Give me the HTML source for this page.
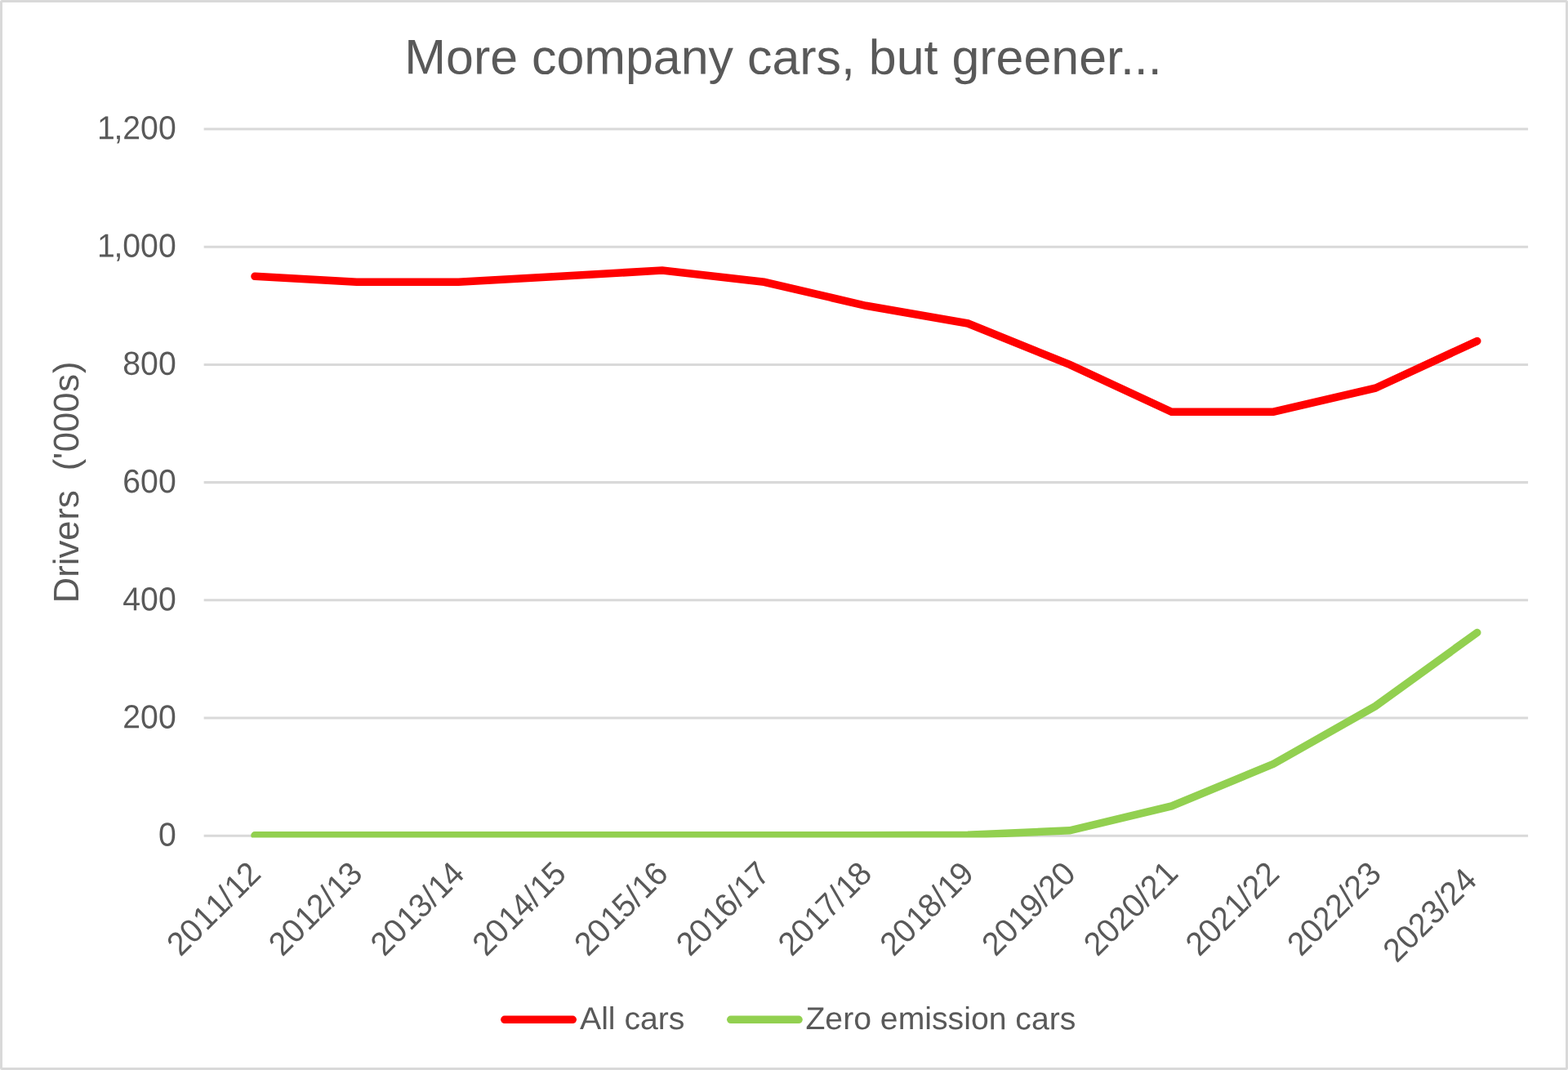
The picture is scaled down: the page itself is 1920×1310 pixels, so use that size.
<!DOCTYPE html>
<html lang="en">
<head>
<meta charset="utf-8">
<title>More company cars, but greener...</title>
<style>
html,body{margin:0;padding:0;background:#fff;}
body{width:1920px;height:1310px;overflow:hidden;}
svg{display:block;font-family:"Liberation Sans",sans-serif;}
text{fill:#595959;white-space:pre;}
.ax text,text.ax{font-kerning:none;}
</style>
</head>
<body>
<svg width="1920" height="1310" viewBox="0 0 1920 1310">
<rect x="0" y="0" width="1920" height="1310" fill="#ffffff"/>
<rect x="1.5" y="1.5" width="1917" height="1307" rx="1" ry="1" fill="none" stroke="#d9d9d9" stroke-width="3"/>
<defs><clipPath id="plot"><rect x="249.64" y="156.00" width="1621.46" height="869.45"/></clipPath></defs>
<g stroke="#d9d9d9" stroke-width="3.05" fill="none">
<line x1="249.64" y1="158.00" x2="1871.1" y2="158.00"/>
<line x1="249.64" y1="302.21" x2="1871.1" y2="302.21"/>
<line x1="249.64" y1="446.42" x2="1871.1" y2="446.42"/>
<line x1="249.64" y1="590.63" x2="1871.1" y2="590.63"/>
<line x1="249.64" y1="734.84" x2="1871.1" y2="734.84"/>
<line x1="249.64" y1="879.05" x2="1871.1" y2="879.05"/>
<line x1="249.64" y1="1023.26" x2="1871.1" y2="1023.26"/>
</g>
<text transform="translate(959.0 90.65) matrix(1 0.0006 0 1 0 0) scale(1 0.984)" font-size="60.9" text-anchor="middle">More company cars, but greener...</text>
<g font-size="39.2" class="ax">
<text transform="translate(215.7 170.37) matrix(1 0.001 0 1 0 0) scale(1 1.032)" x="-96.80 -76.29 -65.40 -43.60 -21.80">1,200</text>
<text transform="translate(215.7 314.58) matrix(1 0.001 0 1 0 0) scale(1 1.032)" x="-96.80 -76.29 -65.40 -43.60 -21.80">1,000</text>
<text transform="translate(215.7 458.79) matrix(1 0.001 0 1 0 0) scale(1 1.032)" x="-65.40 -43.60 -21.80">800</text>
<text transform="translate(215.7 603.00) matrix(1 0.001 0 1 0 0) scale(1 1.032)" x="-65.40 -43.60 -21.80">600</text>
<text transform="translate(215.7 747.21) matrix(1 0.001 0 1 0 0) scale(1 1.032)" x="-65.40 -43.60 -21.80">400</text>
<text transform="translate(215.7 891.42) matrix(1 0.001 0 1 0 0) scale(1 1.032)" x="-65.40 -43.60 -21.80">200</text>
<text transform="translate(215.7 1035.63) matrix(1 0.001 0 1 0 0) scale(1 1.032)" x="-21.80">0</text>
</g>
<text font-size="43.56" class="ax" transform="translate(96 591.3) rotate(-90) matrix(1 0.0006 0 1 0 0)" x="-146.96 -115.50 -101.00 -92.22 -70.44 -45.31 -30.81 -9.03 3.07 15.18 29.08 38.00 62.22 86.45 111.58 134.36">Drivers  ('000s)</text>
<g font-size="39.2" class="ax">
<text transform="translate(321.30 1072.13) rotate(-45) scale(1 1.032)" x="-141.70 -119.90 -96.80 -74.99 -54.49 -42.30 -21.80">2011/12</text>
<text transform="translate(446.03 1072.13) rotate(-45) scale(1 1.032)" x="-141.70 -119.90 -96.80 -76.29 -54.49 -42.30 -21.80">2012/13</text>
<text transform="translate(570.76 1072.13) rotate(-45) scale(1 1.032)" x="-141.70 -119.90 -96.80 -76.29 -54.49 -42.30 -21.80">2013/14</text>
<text transform="translate(695.49 1072.13) rotate(-45) scale(1 1.032)" x="-141.70 -119.90 -96.80 -76.29 -54.49 -42.30 -21.80">2014/15</text>
<text transform="translate(820.21 1072.13) rotate(-45) scale(1 1.032)" x="-141.70 -119.90 -96.80 -76.29 -54.49 -42.30 -21.80">2015/16</text>
<text transform="translate(944.94 1072.13) rotate(-45) scale(1 1.032)" x="-141.70 -119.90 -96.80 -76.29 -54.49 -42.30 -21.80">2016/17</text>
<text transform="translate(1069.67 1072.13) rotate(-45) scale(1 1.032)" x="-141.70 -119.90 -96.80 -76.29 -54.49 -42.30 -21.80">2017/18</text>
<text transform="translate(1194.40 1072.13) rotate(-45) scale(1 1.032)" x="-141.70 -119.90 -96.80 -76.29 -54.49 -42.30 -21.80">2018/19</text>
<text transform="translate(1319.13 1072.13) rotate(-45) scale(1 1.032)" x="-141.70 -119.90 -96.80 -76.29 -54.49 -43.60 -21.80">2019/20</text>
<text transform="translate(1443.85 1072.13) rotate(-45) scale(1 1.032)" x="-141.70 -119.90 -98.10 -76.29 -54.49 -43.60 -20.50">2020/21</text>
<text transform="translate(1568.58 1072.13) rotate(-45) scale(1 1.032)" x="-141.70 -119.90 -98.10 -74.99 -54.49 -43.60 -21.80">2021/22</text>
<text transform="translate(1693.31 1072.13) rotate(-45) scale(1 1.032)" x="-141.70 -119.90 -98.10 -76.29 -54.49 -43.60 -21.80">2022/23</text>
<text transform="translate(1818.04 1072.13) rotate(-45) scale(1 1.032)" x="-152.60 -130.80 -109.00 -87.19 -65.39 -54.50 -32.70">2023/24</text>
</g>
<g fill="none" stroke-width="9.55" stroke-linecap="round" stroke-linejoin="miter" clip-path="url(#plot)">
<polyline stroke="#ff0000" points="312.00,338.26 436.73,345.27 561.46,345.27 686.19,338.26 810.91,331.05 935.64,345.27 1060.37,374.31 1185.10,395.95 1309.83,446.42 1434.55,504.25 1559.28,504.25 1684.01,475.26 1808.74,417.58"/>
<polyline stroke="#92d050" points="312.00,1022.76 436.73,1022.76 561.46,1022.76 686.19,1022.76 810.91,1022.76 935.64,1022.76 1060.37,1022.76 1185.10,1022.18 1309.83,1016.77 1434.55,986.85 1559.28,935.29 1684.01,864.63 1808.74,774.50"/>
</g>
<g fill="none" stroke-width="9.55" stroke-linecap="round">
<line stroke="#ff0000" x1="617.9" y1="1248.27" x2="701.2" y2="1248.27"/>
<line stroke="#92d050" x1="894.8" y1="1248.27" x2="978.0" y2="1248.27"/>
</g>
<g font-size="39.2">
<text transform="translate(710 1260) matrix(1 0.0006 0 1 0 0) scale(1 0.984)">All cars</text>
<text transform="translate(986.4 1260) matrix(1 0.0006 0 1 0 0) scale(1 0.984)">Zero emission cars</text>
</g>
</svg>
</body>
</html>
